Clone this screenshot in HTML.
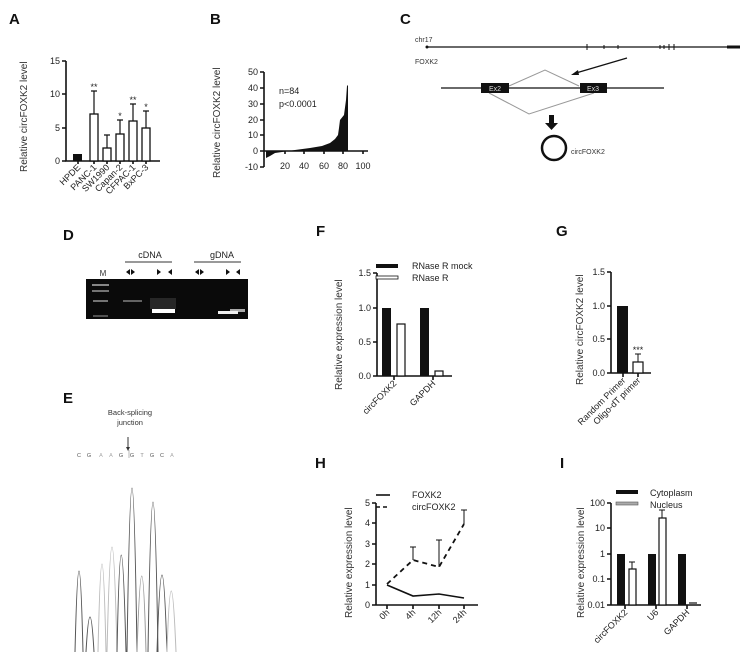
<!DOCTYPE html>
<html><head><meta charset="utf-8"><style>
html,body{margin:0;padding:0;background:#fff}
svg{display:block;font-family:"Liberation Sans",sans-serif}
.t{font-size:9px;fill:#222}
.l{font-size:15px;font-weight:bold;fill:#111}
.ax{stroke:#111;stroke-width:1.6;fill:none}
.yl{font-size:10px;fill:#333}
</style></head><body>
<svg width="752" height="668" viewBox="0 0 752 668" xmlns="http://www.w3.org/2000/svg">
<!-- A -->
<text class="l" x="9" y="24">A</text>
<text class="yl" transform="translate(27,172) rotate(-90)">Relative circFOXK2 level</text>
<g class="ax"><path d="M66 61V161H160"/><path d="M62 61H66M62 94H66M62 128H66M62 161H66"/>
<path d="M78 161v3M94 161v3M107 161v3M120 161v3M133 161v3M146 161v3"/></g>
<g class="t" text-anchor="end"><text x="60" y="64">15</text><text x="60" y="97">10</text><text x="60" y="131">5</text><text x="60" y="164">0</text></g>
<rect x="73" y="154" width="9" height="7" fill="#111"/>
<g fill="#fff" stroke="#111" stroke-width="1.3">
<rect x="90" y="114" width="8" height="47"/><rect x="103" y="148" width="8" height="13"/><rect x="116" y="134" width="8" height="27"/><rect x="129" y="121" width="8" height="40"/><rect x="142" y="128" width="8" height="33"/></g>
<g stroke="#111" stroke-width="1.2"><path d="M94 114V91M91 91h6M107 148V135M104 135h6M120 134V120M117 120h6M133 121V104M130 104h6M146 128V111M143 111h6"/></g>
<g class="t" text-anchor="middle"><text x="94" y="90">**</text><text x="120" y="119">*</text><text x="133" y="103">**</text><text x="146" y="110">*</text></g>
<g class="t" text-anchor="end">
<text transform="translate(81,168) rotate(-45)">HPDE</text><text transform="translate(97,168) rotate(-45)">PANC-1</text><text transform="translate(110,168) rotate(-45)">SW1990</text><text transform="translate(123,168) rotate(-45)">Capan-2</text><text transform="translate(136,168) rotate(-45)">CFPAC-1</text><text transform="translate(149,168) rotate(-45)">BxPC-3</text></g>
<!-- B -->
<text class="l" x="210" y="24">B</text>
<text class="yl" transform="translate(220,178) rotate(-90)">Relative circFOXK2 level</text>
<g class="ax"><path d="M264 72V167M260 72h4M260 88h4M260 104h4M260 120h4M260 135h4M260 151h4M260 167h4"/><path d="M264 151H368M285 151v3M304 151v3M324 151v3M343 151v3M363 151v3"/></g>
<g class="t" text-anchor="end"><text x="258" y="75">50</text><text x="258" y="91">40</text><text x="258" y="107">30</text><text x="258" y="123">20</text><text x="258" y="138">10</text><text x="258" y="154">0</text><text x="258" y="170">-10</text></g>
<g class="t" text-anchor="middle"><text x="285" y="169">20</text><text x="304" y="169">40</text><text x="324" y="169">60</text><text x="343" y="169">80</text><text x="363" y="169">100</text></g>
<path d="M266 151V158L270 156L275 153L282 152L295 150L310 148L322 146L330 143L335 139L338 135L339 128L340 120L344 115L346 100L347 86L348 85V151Z" fill="#111"/>
<text class="t" x="279" y="94" font-size="10">n=84</text><text class="t" x="279" y="107" font-size="10">p&lt;0.0001</text>
<!-- C -->
<text class="l" x="400" y="24">C</text>
<text x="415" y="42" font-size="7" fill="#333">chr17</text>
<text x="415" y="64" font-size="7" fill="#333">FOXK2</text>
<path d="M426 47H740" stroke="#111" stroke-width="1.3"/><path d="M727 47H740" stroke="#111" stroke-width="3"/>
<circle cx="427" cy="47" r="1.5" fill="#111"/>
<path d="M587 44v6M604 45v4M618 45v4M660 45v4M664 45v4M669 44v6M674 44v6" stroke="#111"/>
<path d="M627 58L576 73" stroke="#111" stroke-width="1.3"/><path d="M571 75l7-5 1 5z" fill="#111"/>
<path d="M441 88H664" stroke="#111" stroke-width="1.2"/>
<path d="M509 86L545 70L579 86M489 93L529 114L594 93" stroke="#999" fill="none"/>
<rect x="481" y="83" width="28" height="10" fill="#111"/><rect x="580" y="83" width="27" height="10" fill="#111"/>
<text x="495" y="91" font-size="7" fill="#ddd" text-anchor="middle">Ex2</text><text x="593" y="91" font-size="7" fill="#ddd" text-anchor="middle">Ex3</text>
<path d="M549 115h5v8h4l-6.5 7-6.5-7h4z" fill="#111"/>
<circle cx="554" cy="148" r="12" fill="none" stroke="#111" stroke-width="2.5"/>
<text x="571" y="154" font-size="7" fill="#333">circFOXK2</text>
<!-- D -->
<text class="l" x="63" y="240">D</text>
<text x="150" y="258" font-size="9" fill="#222" text-anchor="middle">cDNA</text><text x="222" y="258" font-size="9" fill="#222" text-anchor="middle">gDNA</text>
<path d="M125 262h47M194 262h47" stroke="#333"/>
<text x="103" y="276" font-size="8" fill="#333" text-anchor="middle">M</text>
<g fill="#111"><path d="M126 272l4-3v6zM131 269l4 3-4 3zM157 269l4 3-4 3zM168 272l4-3v6zM195 272l4-3v6zM200 269l4 3-4 3zM226 269l4 3-4 3zM236 272l4-3v6z"/></g>
<rect x="86" y="279" width="162" height="40" fill="#0a0a0a"/>
<g fill="#bbb"><rect x="92" y="284" width="17" height="2" opacity=".7"/><rect x="92" y="290" width="17" height="2" opacity=".6"/><rect x="93" y="300" width="15" height="2" opacity=".6"/><rect x="93" y="315" width="15" height="2" opacity=".4"/><rect x="123" y="300" width="19" height="2" opacity=".5"/><rect x="230" y="309" width="15" height="3" opacity=".9"/></g>
<rect x="150" y="298" width="26" height="11" fill="#444" opacity=".5"/><rect x="152" y="309" width="23" height="4" fill="#fff"/>
<rect x="218" y="311" width="20" height="3" fill="#eee"/>
<!-- E -->
<text class="l" x="63" y="403">E</text>
<text x="130" y="415" font-size="7.5" fill="#333" text-anchor="middle">Back-splicing</text><text x="130" y="425" font-size="7.5" fill="#333" text-anchor="middle">junction</text>
<path d="M128 437v12" stroke="#333"/><path d="M126 447h4l-2 4z" fill="#333"/>
<g font-size="5.5" text-anchor="middle"><text x="79" y="457" fill="#555">C</text><text x="89" y="457" fill="#555">G</text><text x="101" y="457" fill="#aaa">A</text><text x="111" y="457" fill="#aaa">A</text><text x="121" y="457" fill="#555">G</text><text x="132" y="457" fill="#555">G</text><text x="142" y="457" fill="#888">T</text><text x="152" y="457" fill="#555">G</text><text x="162" y="457" fill="#555">C</text><text x="172" y="457" fill="#aaa">A</text></g>
<path d="M129 450v8" stroke="#888" stroke-width=".6"/>
<g fill="none" stroke-width="1">
<path d="M75 652Q79 490 83 652" stroke="#555"/><path d="M86 652Q90 582 94 652" stroke="#555"/>
<path d="M98 652Q102 476 106 652" stroke="#bbb"/><path d="M107 652Q112 442 117 652" stroke="#bbb"/>
<path d="M117 652Q121 458 126 652" stroke="#555"/><path d="M127 652Q132 324 137 652" stroke="#555"/>
<path d="M137 652Q142 500 146 652" stroke="#999"/><path d="M148 652Q153 352 158 652" stroke="#555"/>
<path d="M157 652Q162 498 167 652" stroke="#555"/><path d="M167 652Q171 530 176 652" stroke="#bbb"/></g>
<!-- F -->
<text class="l" x="316" y="236">F</text>
<text class="yl" transform="translate(342,390) rotate(-90)">Relative expression level</text>
<g class="ax"><path d="M377 273V376H452M373 273h4M373 308h4M373 342h4M373 376h4M394 376v4M433 376v4"/></g>
<g class="t" text-anchor="end"><text x="371" y="276">1.5</text><text x="371" y="311">1.0</text><text x="371" y="345">0.5</text><text x="371" y="379">0.0</text></g>
<rect x="376" y="264" width="22" height="4" fill="#111"/><rect x="376" y="276" width="22" height="3" fill="#fff" stroke="#111" stroke-width=".8"/>
<text class="t" x="412" y="269" font-size="9">RNase R mock</text><text class="t" x="412" y="281" font-size="9">RNase R</text>
<rect x="382" y="308" width="9" height="68" fill="#111"/><rect x="420" y="308" width="9" height="68" fill="#111"/>
<rect x="397" y="324" width="8" height="52" fill="#fff" stroke="#111" stroke-width="1.2"/><rect x="435" y="371" width="8" height="5" fill="#fff" stroke="#111" stroke-width="1.2"/>
<g class="t" text-anchor="end"><text transform="translate(397,384) rotate(-45)">circFOXK2</text><text transform="translate(436,384) rotate(-45)">GAPDH</text></g>
<!-- G -->
<text class="l" x="556" y="236">G</text>
<text class="yl" transform="translate(583,385) rotate(-90)">Relative circFOXK2 level</text>
<g class="ax"><path d="M611 272V373H651M607 272h4M607 306h4M607 339h4M607 373h4M623 373v4M638 373v4"/></g>
<g class="t" text-anchor="end"><text x="605" y="275">1.5</text><text x="605" y="309">1.0</text><text x="605" y="342">0.5</text><text x="605" y="376">0.0</text></g>
<rect x="617" y="306" width="11" height="67" fill="#111"/>
<rect x="633" y="362" width="10" height="11" fill="#fff" stroke="#111" stroke-width="1.2"/>
<path d="M638 362v-8M635 354h6" stroke="#111"/>
<text class="t" x="638" y="353" text-anchor="middle">***</text>
<g class="t" text-anchor="end"><text transform="translate(626,381) rotate(-45)">Random Primer</text><text transform="translate(641,381) rotate(-45)">Oligo-dT primer</text></g>
<!-- H -->
<text class="l" x="315" y="468">H</text>
<text class="yl" transform="translate(352,618) rotate(-90)">Relative expression level</text>
<g class="ax"><path d="M376 503V605H478M372 503h4M372 523h4M372 544h4M372 564h4M372 585h4M372 605h4M387 605v4M413 605v4M439 605v4M464 605v4"/></g>
<g class="t" text-anchor="end"><text x="370" y="506">5</text><text x="370" y="526">4</text><text x="370" y="547">3</text><text x="370" y="567">2</text><text x="370" y="588">1</text><text x="370" y="608">0</text></g>
<path d="M376 495h14" stroke="#111" stroke-width="1.6"/><path d="M376 507h14" stroke="#111" stroke-width="1.6" stroke-dasharray="4 3"/>
<text class="t" x="412" y="498" font-size="9">FOXK2</text><text class="t" x="412" y="510" font-size="9">circFOXK2</text>
<path d="M387 585L413 596L439 594L464 598" stroke="#111" stroke-width="1.6" fill="none"/>
<path d="M387 584L413 560L439 567L464 524" stroke="#111" stroke-width="1.8" fill="none" stroke-dasharray="5 4"/>
<path d="M413 560v-13M410 547h6M439 567v-27M436 540h6M464 524v-14M461 510h6" stroke="#111"/>
<g class="t" text-anchor="end"><text transform="translate(390,613) rotate(-45)">0h</text><text transform="translate(416,613) rotate(-45)">4h</text><text transform="translate(442,613) rotate(-45)">12h</text><text transform="translate(467,613) rotate(-45)">24h</text></g>
<!-- I -->
<text class="l" x="560" y="468">I</text>
<text class="yl" transform="translate(584,618) rotate(-90)">Relative expression level</text>
<g class="ax"><path d="M611 503V605H701M607 503h4M607 528h4M607 554h4M607 579h4M607 605h4M625 605v4M656 605v4M687 605v4"/></g>
<g class="t" text-anchor="end" font-size="8.5"><text x="605" y="506">100</text><text x="605" y="531">10</text><text x="605" y="557">1</text><text x="605" y="582">0.1</text><text x="605" y="608">0.01</text></g>
<rect x="616" y="490" width="22" height="4" fill="#111"/><rect x="616" y="502" width="22" height="3" fill="#aaa" stroke="#555" stroke-width=".6"/>
<text class="t" x="650" y="496" font-size="9">Cytoplasm</text><text class="t" x="650" y="508" font-size="9">Nucleus</text>
<rect x="617" y="554" width="8" height="51" fill="#111"/><rect x="648" y="554" width="8" height="51" fill="#111"/><rect x="678" y="554" width="8" height="51" fill="#111"/>
<rect x="629" y="569" width="7" height="36" fill="#fff" stroke="#111" stroke-width="1.2"/><rect x="659" y="518" width="7" height="87" fill="#fff" stroke="#111" stroke-width="1.2"/>
<path d="M689 603h8" stroke="#111" stroke-width="1.2"/>
<path d="M632 569v-7M629 562h6M662 518v-8M659 510h6" stroke="#111"/>
<g class="t" text-anchor="end"><text transform="translate(628,613) rotate(-45)">circFOXK2</text><text transform="translate(659,613) rotate(-45)">U6</text><text transform="translate(690,613) rotate(-45)">GAPDH</text></g>
</svg>
</body></html>
